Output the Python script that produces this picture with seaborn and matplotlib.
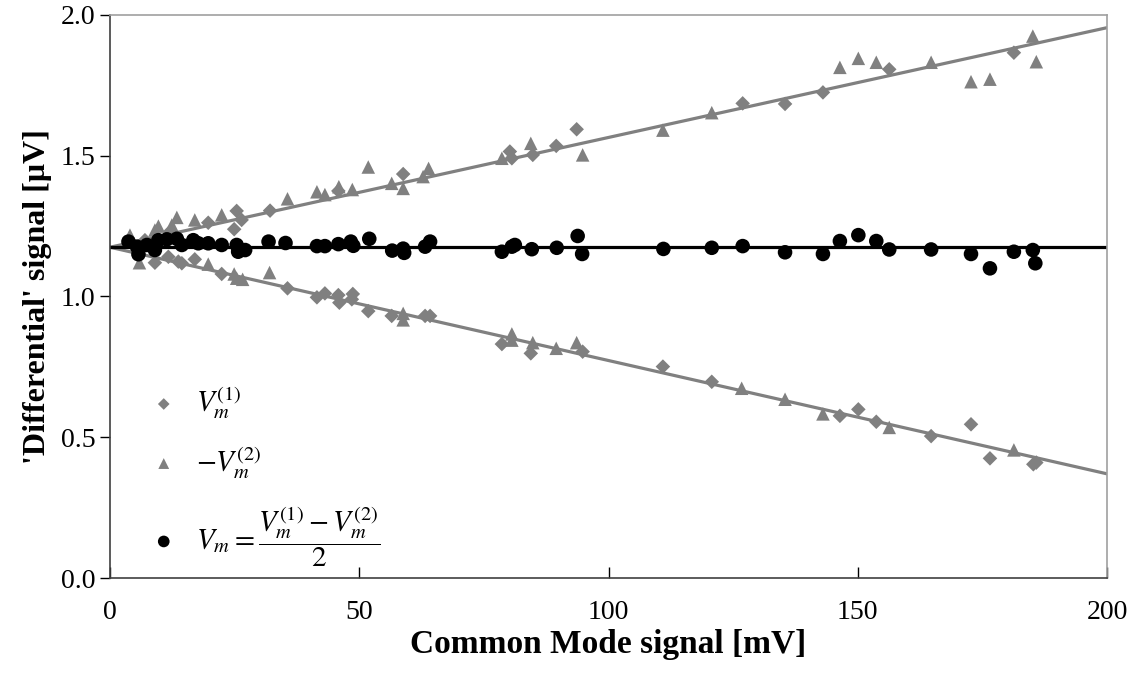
import numpy as np
import pandas as pd
import seaborn as sns
import matplotlib.pyplot as plt

# data
# V_m^(1) (diamonds)
d_x = [7.0, 12.0, 19.7, 24.9, 25.4, 26.4, 32.1, 45.8, 58.8, 80.2, 80.6, 84.8, 89.5, 93.6,
       126.9, 135.4, 143.0, 156.3, 181.3,
       9.0, 11.7, 13.7, 14.4, 17.0, 22.4, 35.6, 41.5, 43.1, 45.8, 46.0, 48.7, 48.5, 51.8,
       56.5, 63.2, 64.2, 78.6, 84.4, 94.8, 110.9, 120.7, 146.4, 150.1, 153.7, 164.7, 172.7,
       176.5, 185.2, 185.8]
d_y = [1.20, 1.23, 1.262, 1.239, 1.304, 1.272, 1.305, 1.375, 1.435, 1.515, 1.491, 1.503, 1.535, 1.594,
       1.686, 1.684, 1.725, 1.807, 1.866,
       1.120, 1.141, 1.124, 1.118, 1.132, 1.080, 1.029, 0.997, 1.011, 1.005, 0.978, 1.009, 0.990, 0.948,
       0.931, 0.931, 0.931, 0.831, 0.798, 0.804, 0.751, 0.697, 0.576, 0.599, 0.555, 0.504, 0.546,
       0.425, 0.404, 0.410]

# -V_m^(2) (triangles)
t_x = [4.0, 9.0, 9.7, 12.4, 13.4, 17.0, 22.4, 35.6, 41.5, 43.1, 45.9, 48.6, 51.8, 56.5, 58.8,
       62.8, 63.9, 78.6, 84.4, 94.8, 110.9, 120.7, 146.4, 150.1, 153.7, 164.7, 172.7, 176.5,
       185.1, 185.8,
       5.9, 19.7, 24.9, 25.4, 26.6, 32.0, 58.8, 58.8, 80.6, 80.6, 84.8, 89.5, 93.6, 126.7,
       135.4, 143.0, 156.3, 181.3]
t_y = [1.218, 1.236, 1.250, 1.254, 1.281, 1.272, 1.290, 1.347, 1.372, 1.362, 1.390, 1.380, 1.460, 1.402, 1.384,
       1.426, 1.455, 1.491, 1.544, 1.503, 1.591, 1.653, 1.814, 1.846, 1.832, 1.832, 1.763, 1.772,
       1.925, 1.834,
       1.120, 1.115, 1.080, 1.065, 1.061, 1.085, 0.940, 0.917, 0.867, 0.845, 0.836, 0.816, 0.836, 0.674,
       0.635, 0.583, 0.535, 0.455]

# V_m (black circles)
c_x = [3.7, 5.4, 5.7, 7.4, 9.0, 9.7, 11.4, 13.4, 14.4, 16.7, 17.7, 19.7, 22.4, 25.4, 25.7,
       27.1, 31.8, 35.2, 41.5, 43.1, 45.8, 48.3, 48.8, 52.0, 56.6, 58.8, 59.0, 63.2, 64.2,
       78.6, 80.6, 81.2, 84.6, 89.6, 93.8, 94.7, 111.0, 120.7, 126.9, 135.4, 143.0, 146.4,
       150.1, 153.7, 156.3, 164.7, 172.7, 176.5, 181.3, 185.1, 185.6]
c_y = [1.195, 1.177, 1.150, 1.183, 1.165, 1.200, 1.203, 1.205, 1.183, 1.200, 1.189, 1.189, 1.183, 1.183, 1.159,
       1.165, 1.195, 1.190, 1.179, 1.179, 1.186, 1.195, 1.180, 1.205, 1.163, 1.170, 1.155, 1.177, 1.195,
       1.159, 1.177, 1.183, 1.168, 1.173, 1.215, 1.151, 1.169, 1.173, 1.179, 1.157, 1.151, 1.197,
       1.218, 1.197, 1.167, 1.167, 1.151, 1.100, 1.159, 1.165, 1.118]

# straight fits
fit_x = [0, 200]
fit_up = [1.175, 1.955]
fit_down = [1.175, 0.370]
fit_mid = [1.176, 1.176]

sns.set_style("ticks")
plt.rcParams['font.family'] = ['Liberation Serif', 'DejaVu Serif']
plt.rcParams['mathtext.fontset'] = 'stix'
plt.rcParams['text.color'] = 'black'
plt.rcParams['axes.labelcolor'] = 'black'
plt.rcParams['xtick.color'] = 'black'
plt.rcParams['ytick.color'] = 'black'

gray = "#808080"

fig = plt.figure(figsize=(11.39, 6.75), dpi=100)
ax = fig.add_axes([0.0966, 0.1437, 0.8754, 0.8341])

sns.lineplot(x=fit_x, y=fit_up, color=gray, lw=2.3, ax=ax, legend=False)
sns.lineplot(x=fit_x, y=fit_down, color=gray, lw=2.3, ax=ax, legend=False)
sns.lineplot(x=fit_x, y=fit_mid, color="black", lw=2.3, ax=ax, legend=False)

sns.scatterplot(x=d_x, y=d_y, marker="D", s=55, color=gray, edgecolor="none", ax=ax,
                label=r"$V_m^{(1)}$", zorder=3)
sns.scatterplot(x=t_x, y=t_y, marker="^", s=95, color=gray, edgecolor="none", ax=ax,
                label=r"$-V_m^{(2)}$", zorder=3)
sns.scatterplot(x=c_x, y=c_y, marker="o", s=110, color="black", edgecolor="none", ax=ax,
                label=r"$V_m=\dfrac{V_m^{(1)}-V_m^{(2)}}{2}$", zorder=4)

ax.set_xlim(0, 200)
ax.set_ylim(0, 2.0)
ax.set_xticks([0, 50, 100, 150, 200])
ax.set_yticks([0.0, 0.5, 1.0, 1.5, 2.0])
ax.set_yticklabels(["0.0", "0.5", "1.0", "1.5", "2.0"])
ax.tick_params(axis="x", direction="in", length=8, width=1, labelsize=20, pad=16,
               colors="black")
ax.tick_params(axis="y", direction="out", length=7, width=1, labelsize=20, colors="black")

for side in ["left", "bottom"]:
    ax.spines[side].set_color("#404040")
    ax.spines[side].set_linewidth(1.2)
for side in ["top", "right"]:
    ax.spines[side].set_visible(True)
    ax.spines[side].set_color("#a0a0a0")
    ax.spines[side].set_linewidth(1.2)

ax.set_xlabel("Common Mode signal [mV]", fontsize=24, fontweight="bold", labelpad=3,
              color="black")
ax.set_ylabel("'Differential' signal [\u03bcV]", fontsize=23, fontweight="bold", labelpad=6,
              color="black")

leg = ax.legend(loc="lower left", bbox_to_anchor=(0.01, -0.03), frameon=False,
                fontsize=21, labelspacing=0.8, handlelength=1.2, handletextpad=0.5,
                markerscale=0.8)

fig.savefig("out.png", dpi=100)
